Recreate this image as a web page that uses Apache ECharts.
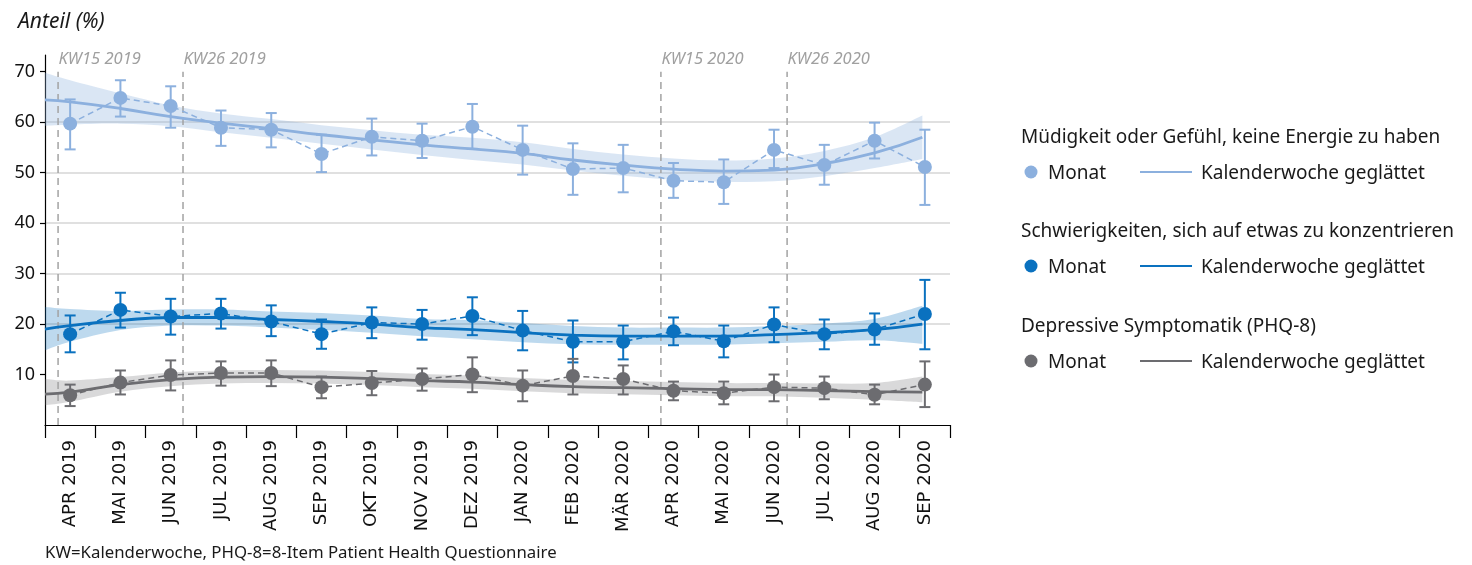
<!DOCTYPE html>
<html>
<head>
<meta charset="utf-8">
<script src="https://cdn.jsdelivr.net/npm/echarts@6/dist/echarts.min.js"></script>
<style>
  html, body { margin: 0; padding: 0; background: #fff; }
  #chart { width: 1472px; height: 565px; }
</style>
</head>
<body>
<div id="chart"></div>
<script>
// Monthly categories on the x axis
const months = ['APR 2019', 'MAI 2019', 'JUN 2019', 'JUL 2019', 'AUG 2019', 'SEP 2019',
  'OKT 2019', 'NOV 2019', 'DEZ 2019', 'JAN 2020', 'FEB 2020', 'MÄR 2020',
  'APR 2020', 'MAI 2020', 'JUN 2020', 'JUL 2020', 'AUG 2020', 'SEP 2020'];

const yTicks = [10, 20, 30, 40, 50, 60, 70];

// Müdigkeit oder Gefühl, keine Energie zu haben – monthly share with 95% CI
const fatigueMonth = [59.7, 64.8, 63.2, 58.9, 58.5, 53.7, 57.1, 56.3, 59.1, 54.5, 50.7, 50.9, 48.4, 48.1, 54.5, 51.5, 56.3, 51.1];
const fatigueLow   = [54.6, 61.1, 58.9, 55.3, 55.0, 50.1, 53.4, 52.9, 54.7, 49.6, 45.6, 46.1, 45.0, 43.8, 50.9, 47.6, 52.8, 43.6];
const fatigueHigh  = [64.5, 68.3, 67.1, 62.3, 61.8, 57.5, 60.7, 59.7, 63.6, 59.3, 55.8, 55.5, 51.9, 52.6, 58.5, 55.5, 59.9, 58.5];

// Schwierigkeiten, sich auf etwas zu konzentrieren
const concMonth = [18.0, 22.8, 21.5, 22.1, 20.5, 18.0, 20.3, 20.0, 21.6, 18.7, 16.5, 16.5, 18.55, 16.6, 19.9, 18.0, 18.9, 22.0];
const concLow   = [14.4, 19.3, 17.9, 19.1, 17.6, 15.1, 17.2, 16.9, 17.8, 14.8, 12.4, 13.0, 15.8, 13.4, 16.4, 15.0, 15.9, 15.0];
const concHigh  = [21.7, 26.2, 25.0, 25.0, 23.7, 20.9, 23.3, 22.8, 25.3, 22.6, 20.7, 19.7, 21.3, 19.7, 23.3, 20.9, 22.1, 28.75];

// Depressive Symptomatik (PHQ-8)
const phqMonth = [5.9, 8.4, 9.9, 10.3, 10.3, 7.5, 8.3, 9.1, 10.0, 7.8, 9.7, 9.1, 6.8, 6.3, 7.5, 7.3, 6.0, 8.0];
const phqLow   = [3.75, 6.05, 6.85, 7.8, 7.7, 5.3, 5.9, 6.8, 6.5, 4.7, 6.05, 6.05, 4.9, 4.1, 4.7, 5.1, 4.1, 3.55];
const phqHigh  = [8.0, 10.8, 12.8, 12.6, 12.8, 9.6, 10.7, 11.2, 13.4, 10.8, 13.1, 11.8, 8.6, 8.6, 10.0, 9.6, 8.0, 12.6];

// Smoothed calendar-week trend, sampled along the month scale (0 = APR 2019)
const smoothPos = [-0.5, 0, 1, 2, 3, 4, 5, 6, 7, 8, 9, 10, 11, 12, 13, 14, 15, 16, 16.95];

const fatigueSmooth = [64.4, 64.0, 62.7, 61.1, 59.8, 58.7, 57.5, 56.5, 55.5, 54.7, 53.8, 52.5, 51.5, 50.7, 50.3, 50.5, 51.8, 53.9, 57.0];
const fatigueBandLo = [59.3, 59.5, 59.7, 59.2, 58.0, 56.9, 55.7, 54.6, 53.5, 52.5, 51.6, 50.4, 49.4, 48.6, 48.2, 48.3, 49.3, 50.9, 52.7];
const fatigueBandHi = [69.8, 68.3, 65.7, 63.3, 61.7, 60.6, 59.4, 58.4, 57.5, 56.9, 56.0, 54.7, 53.6, 52.8, 52.4, 52.8, 54.3, 57.0, 61.3];

const concSmooth = [19.0, 19.7, 20.7, 21.3, 21.3, 20.9, 20.5, 20.0, 19.3, 18.9, 18.3, 17.8, 17.6, 17.6, 17.6, 17.9, 18.3, 18.9, 20.0];
const concBandLo = [14.8, 16.5, 18.8, 19.7, 19.7, 19.3, 18.8, 18.3, 17.6, 17.0, 16.4, 16.0, 15.9, 15.9, 15.9, 16.2, 16.5, 16.8, 16.1];
const concBandHi = [23.4, 23.0, 22.6, 22.9, 22.9, 22.5, 22.2, 21.7, 21.0, 20.8, 20.2, 19.6, 19.3, 19.3, 19.3, 19.6, 20.1, 21.0, 23.6];

const phqSmooth = [6.1, 6.5, 8.0, 9.0, 9.5, 9.6, 9.5, 9.2, 8.8, 8.5, 8.0, 7.6, 7.4, 7.2, 7.0, 7.0, 6.8, 6.6, 6.5];
const phqBandLo = [3.9, 4.6, 6.6, 7.7, 8.2, 8.3, 8.2, 7.9, 7.5, 7.2, 6.7, 6.3, 6.1, 5.9, 5.7, 5.7, 5.4, 5.0, 4.5];
const phqBandHi = [9.1, 8.8, 9.5, 10.4, 10.8, 10.9, 10.8, 10.5, 10.1, 9.8, 9.3, 8.9, 8.7, 8.5, 8.3, 8.3, 8.2, 8.3, 9.6];

// Reference weeks drawn as dashed verticals
const weekLabels = ['KW15 2019', 'KW26 2019', 'KW15 2020', 'KW26 2020'];
const weekPos = [-0.24, 2.245, 11.75, 14.26];

const COLORS = {
  fatigue: '#8cb0de',
  conc: '#0a71bf',
  phq: '#6c6c70'
};
const BANDS = {
  fatigue: 'rgba(140,176,222,0.32)',
  conc: 'rgba(10,113,191,0.27)',
  phq: 'rgba(108,108,112,0.26)'
};

const FONT = '"Noto Sans", "Open Sans", sans-serif';

function pairs(xs, ys) { return xs.map((x, i) => [x, ys[i]]); }

// Cubic (Catmull-Rom) segments through pixel points, appended after a moveTo/lineTo
function curveThrough(pts) {
  let d = '';
  for (let i = 0; i < pts.length - 1; i++) {
    const p0 = pts[i - 1] || pts[i];
    const p1 = pts[i];
    const p2 = pts[i + 1];
    const p3 = pts[i + 2] || p2;
    const c1x = p1[0] + (p2[0] - p0[0]) / 6, c1y = p1[1] + (p2[1] - p0[1]) / 6;
    const c2x = p2[0] - (p3[0] - p1[0]) / 6, c2y = p2[1] - (p3[1] - p1[1]) / 6;
    d += ' C' + c1x + ',' + c1y + ' ' + c2x + ',' + c2y + ' ' + p2[0] + ',' + p2[1];
  }
  return d;
}

// Confidence band of the smoothed trend, filled between its lower and upper edge
function bandSeries(key, lo, hi) {
  return {
    type: 'custom', xAxisIndex: 1, z: 1, silent: true,
    encode: { x: 0, y: [1, 2] },
    data: smoothPos.map((x, i) => [x, lo[i], hi[i]]),
    renderItem: function (params, api) {
      if (params.dataIndex !== 0) return null;
      const top = smoothPos.map((x, i) => api.coord([x, hi[i]]));
      const bot = smoothPos.map((x, i) => api.coord([x, lo[i]])).reverse();
      const d = 'M' + top[0][0] + ',' + top[0][1] + curveThrough(top) +
        ' L' + bot[0][0] + ',' + bot[0][1] + curveThrough(bot) + ' Z';
      return { type: 'path', shape: { pathData: d }, style: { fill: BANDS[key], stroke: null } };
    }
  };
}

function trendSeries(key, vals) {
  return {
    type: 'line', xAxisIndex: 1, smooth: true, symbol: 'none', silent: true, z: 3,
    lineStyle: { color: COLORS[key], width: 2.8 },
    data: pairs(smoothPos, vals)
  };
}

function errorSeries(key, lo, hi) {
  return {
    type: 'custom', xAxisIndex: 0, z: 4, silent: true,
    encode: { x: 0, y: [1, 2] },
    data: lo.map((v, i) => [i, v, hi[i]]),
    renderItem: function (params, api) {
      const i = api.value(0);
      const pLo = api.coord([i, api.value(1)]);
      const pHi = api.coord([i, api.value(2)]);
      const cap = 5.5;
      const style = { stroke: COLORS[key], lineWidth: 2 };
      return {
        type: 'group',
        children: [
          { type: 'line', shape: { x1: pLo[0], y1: pLo[1], x2: pHi[0], y2: pHi[1] }, style: style },
          { type: 'line', shape: { x1: pLo[0] - cap, y1: pLo[1], x2: pLo[0] + cap, y2: pLo[1] }, style: style },
          { type: 'line', shape: { x1: pHi[0] - cap, y1: pHi[1], x2: pHi[0] + cap, y2: pHi[1] }, style: style }
        ]
      };
    }
  };
}

function monthSeries(key, vals) {
  return {
    type: 'line', xAxisIndex: 0, z: 5, silent: true,
    symbol: 'circle', symbolSize: 14,
    itemStyle: { color: COLORS[key] },
    lineStyle: { color: COLORS[key], width: 1.5, type: [6, 4] },
    data: vals
  };
}

const weekSeries = {
  type: 'custom', xAxisIndex: 1, z: 2, silent: true,
  encode: { x: 0, y: [1, 2] },
  data: weekPos.map(p => [p, 0, 70]),
  renderItem: function (params, api) {
    const x = api.value(0);
    const bottom = api.coord([x, api.value(1)]);
    const top = api.coord([x, api.value(2)]);
    return {
      type: 'group',
      children: [
        {
          type: 'line',
          shape: { x1: bottom[0], y1: bottom[1], x2: top[0], y2: top[1] },
          style: { stroke: '#a3a3a3', lineWidth: 1.5, lineDash: [7, 5] }
        },
        {
          type: 'text',
          style: {
            x: top[0] + 0.5, y: top[1] - 12,
            text: weekLabels[params.dataIndex],
            fill: '#a0a0a0', font: 'italic 16.5px ' + FONT,
            align: 'left', verticalAlign: 'middle'
          }
        }
      ]
    };
  }
};

// Legend built from text, dots and line swatches
const legendGroups = [
  { key: 'fatigue', title: 'Müdigkeit oder Gefühl, keine Energie zu haben', y: 136 },
  { key: 'conc', title: 'Schwierigkeiten, sich auf etwas zu konzentrieren', y: 230 },
  { key: 'phq', title: 'Depressive Symptomatik (PHQ-8)', y: 325 }
];
const LEGEND_FONT = '19px ' + FONT;
const legendGraphics = [];
legendGroups.forEach(g => {
  const rowY = g.y + 36;
  legendGraphics.push(
    { type: 'text', left: 1021, top: g.y - 8, style: { text: g.title, fill: '#1a1a1a', font: LEGEND_FONT } },
    { type: 'circle', shape: { cx: 1031, cy: rowY, r: 6.5 }, style: { fill: COLORS[g.key] } },
    { type: 'text', left: 1048, top: rowY - 8, style: { text: 'Monat', fill: '#1a1a1a', font: LEGEND_FONT } },
    { type: 'line', shape: { x1: 1140, y1: rowY, x2: 1192, y2: rowY }, style: { stroke: COLORS[g.key], lineWidth: 2 } },
    { type: 'text', left: 1201, top: rowY - 8, style: { text: 'Kalenderwoche geglättet', fill: '#1a1a1a', font: LEGEND_FONT } }
  );
});

const chart = echarts.init(document.getElementById('chart'), null, { renderer: 'canvas' });

chart.setOption({
  animation: false,
  backgroundColor: '#ffffff',
  grid: { left: 45, right: 522, top: 55, bottom: 140, containLabel: false },
  graphic: [
    { type: 'text', left: 18, top: 12, style: { text: 'Anteil (%)', fill: '#1a1a1a', font: 'italic 21px ' + FONT } },
    { type: 'text', left: 45, top: 545, style: { text: 'KW=Kalenderwoche, PHQ-8=8-Item Patient Health Questionnaire', fill: '#1a1a1a', font: '16.8px ' + FONT } }
  ].concat(legendGraphics),
  xAxis: [
    {
      type: 'category', data: months, boundaryGap: true,
      axisLine: { onZero: false, lineStyle: { color: '#000', width: 1.2 } },
      axisTick: { show: true, length: 13, alignWithLabel: false, interval: 0, lineStyle: { color: '#000', width: 1.2 } },
      axisLabel: { rotate: 90, interval: 0, margin: 15, color: '#111', fontSize: 18, fontFamily: '"DejaVu Sans", sans-serif' },
      splitLine: { show: false }
    },
    {
      type: 'value', min: -0.5, max: 17.5, show: false
    }
  ],
  yAxis: {
    type: 'value', min: 0, max: 73.3, interval: 10,
    axisLine: { show: true, onZero: false, lineStyle: { color: '#000', width: 1.2 } },
    axisTick: { show: true, length: 5, customValues: yTicks, lineStyle: { color: '#000', width: 1.2 } },
    axisLabel: { customValues: yTicks, margin: 10, color: '#111', fontSize: 18, fontFamily: FONT },
    splitLine: { show: true, showMinLine: false, showMaxLine: false, lineStyle: { color: '#d6d6d6', width: 1.6 } }
  },
  series: [
    bandSeries('fatigue', fatigueBandLo, fatigueBandHi),
    bandSeries('conc', concBandLo, concBandHi),
    bandSeries('phq', phqBandLo, phqBandHi),
    weekSeries,
    trendSeries('fatigue', fatigueSmooth),
    trendSeries('conc', concSmooth),
    trendSeries('phq', phqSmooth),
    errorSeries('fatigue', fatigueLow, fatigueHigh),
    errorSeries('conc', concLow, concHigh),
    errorSeries('phq', phqLow, phqHigh),
    monthSeries('fatigue', fatigueMonth),
    monthSeries('conc', concMonth),
    monthSeries('phq', phqMonth)
  ]
});
</script>
</body>
</html>
